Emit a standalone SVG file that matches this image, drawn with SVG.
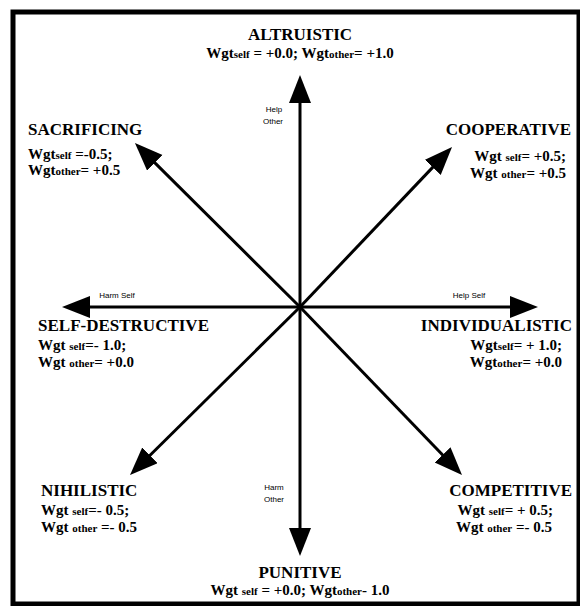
<svg xmlns="http://www.w3.org/2000/svg" width="580" height="606" viewBox="0 0 580 606">
<style>
.t{font-family:"Liberation Serif","Times New Roman",serif;font-weight:bold;font-size:17px;fill:#000}
.w{font-family:"Liberation Serif","Times New Roman",serif;font-weight:bold;font-size:15px;fill:#000}
.w .s{font-size:11px}
.a{font-family:"Liberation Sans",Arial,sans-serif;font-size:8px;fill:#000}
.ax{stroke:#000;stroke-width:3;fill:none}
</style>
<defs>
<marker id="ah" markerUnits="userSpaceOnUse" markerWidth="30" markerHeight="24" refX="13" refY="11" orient="auto" viewBox="0 0 30 24">
<path d="M0,0 L28,11 L0,22 Z" fill="#000"/>
</marker>
</defs>
<rect width="580" height="606" fill="#fff"/>
<rect x="13" y="12" width="566" height="592" fill="none" stroke="#000" stroke-width="5"/>
<g id="connectors">
<line class="ax" x1="300" y1="307" x2="300" y2="90" marker-end="url(#ah)"/>
<line class="ax" x1="300" y1="307" x2="300" y2="541" marker-end="url(#ah)"/>
<line class="ax" x1="300" y1="307" x2="77" y2="307" marker-end="url(#ah)"/>
<line class="ax" x1="300" y1="307" x2="523" y2="307" marker-end="url(#ah)"/>
<line class="ax" x1="300" y1="307" x2="145.6" y2="153.6" marker-end="url(#ah)"/>
<line class="ax" x1="300" y1="307" x2="441.7" y2="157.9" marker-end="url(#ah)"/>
<line class="ax" x1="300" y1="307" x2="140.7" y2="464.5" marker-end="url(#ah)"/>
<line class="ax" x1="300" y1="307" x2="451.6" y2="464.2" marker-end="url(#ah)"/>
<text class="a" x="274" y="112" text-anchor="middle">Help</text>
<text class="a" x="273" y="124" text-anchor="middle">Other</text>
<text class="a" x="117" y="298" text-anchor="middle">Harm Self</text>
<text class="a" x="469" y="298" text-anchor="middle">Help Self</text>
<text class="a" x="274" y="490" text-anchor="middle">Harm</text>
<text class="a" x="274" y="502" text-anchor="middle">Other</text>
</g>
<g id="altruistic">
<text class="t" x="300" y="40" text-anchor="middle">ALTRUISTIC</text>
<text class="w" x="300" y="58" text-anchor="middle">Wgt<tspan class="s">self</tspan> = +0.0; Wgt<tspan class="s">other</tspan>= +1.0</text>
</g>
<g id="sacrificing">
<text class="t" x="28" y="135">SACRIFICING</text>
<text class="w" x="28" y="159">Wgt<tspan class="s">self</tspan> =-0.5;</text>
<text class="w" x="28" y="175">Wgt<tspan class="s">other</tspan>= +0.5</text>
</g>
<g id="cooperative">
<text class="t" x="571" y="135" text-anchor="end">COOPERATIVE</text>
<text class="w" x="566" y="161" text-anchor="end">Wgt <tspan class="s">self</tspan>= +0.5;</text>
<text class="w" x="566" y="178" text-anchor="end">Wgt <tspan class="s">other</tspan>= +0.5</text>
</g>
<g id="self-destructive">
<text class="t" x="38" y="331">SELF-DESTRUCTIVE</text>
<text class="w" x="38" y="350">Wgt <tspan class="s">self</tspan>=- 1.0;</text>
<text class="w" x="38" y="367">Wgt <tspan class="s">other</tspan>= +0.0</text>
</g>
<g id="individualistic">
<text class="t" x="572" y="331" text-anchor="end">INDIVIDUALISTIC</text>
<text class="w" x="562" y="350" text-anchor="end">Wgt<tspan class="s">self</tspan>= + 1.0;</text>
<text class="w" x="562" y="367" text-anchor="end">Wgt<tspan class="s">other</tspan>= +0.0</text>
</g>
<g id="nihilistic">
<text class="t" x="41" y="496">NIHILISTIC</text>
<text class="w" x="41" y="515">Wgt <tspan class="s">self</tspan>=- 0.5;</text>
<text class="w" x="41" y="532">Wgt <tspan class="s">other</tspan> =- 0.5</text>
</g>
<g id="competitive">
<text class="t" x="572" y="496" text-anchor="end">COMPETITIVE</text>
<text class="w" x="553" y="515" text-anchor="end">Wgt <tspan class="s">self</tspan>= + 0.5;</text>
<text class="w" x="552" y="532" text-anchor="end">Wgt <tspan class="s">other</tspan> =- 0.5</text>
</g>
<g id="punitive">
<text class="t" x="300" y="578" text-anchor="middle">PUNITIVE</text>
<text class="w" x="300" y="595" text-anchor="middle">Wgt <tspan class="s">self</tspan> = +0.0; Wgt<tspan class="s">other</tspan>- 1.0</text>
</g>
</svg>
